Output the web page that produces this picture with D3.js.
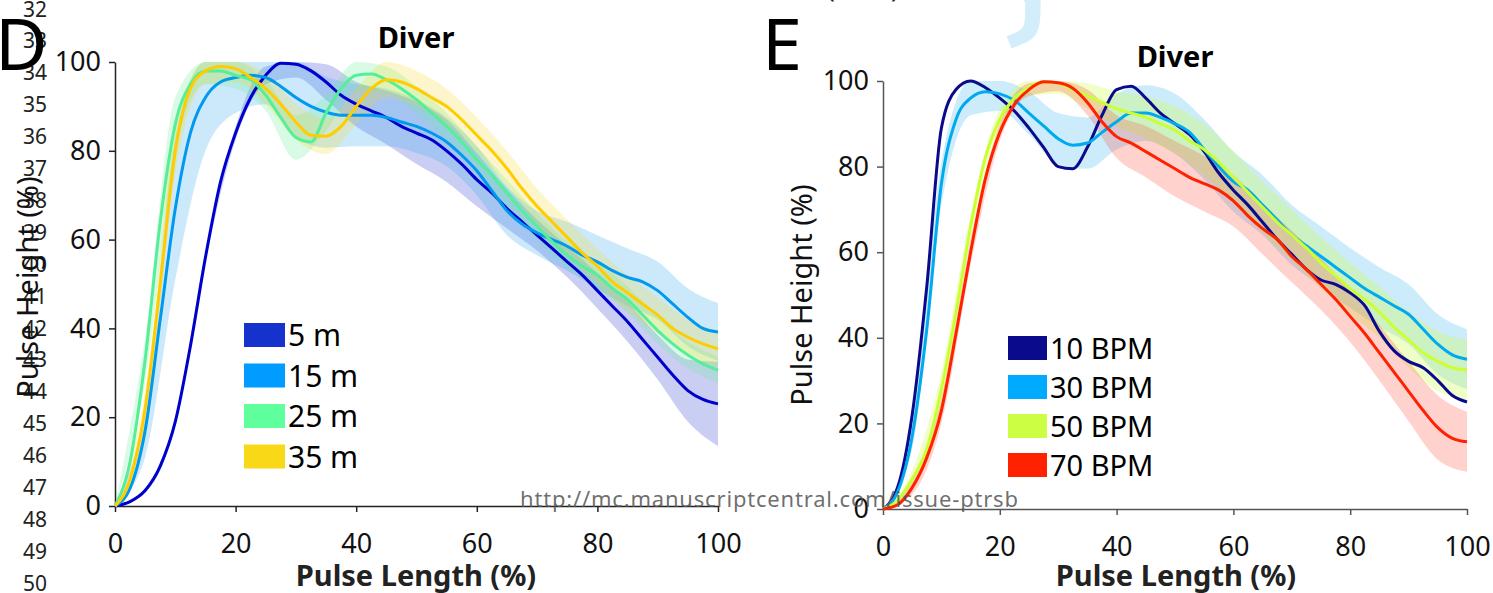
<!DOCTYPE html>
<html><head><meta charset="utf-8">
<script src="https://cdn.jsdelivr.net/npm/d3@7"></script>
<style>
html,body{margin:0;padding:0;background:#fff;}
svg{display:block;font-family:"Noto Sans","Open Sans",sans-serif;}
</style></head>
<body>
<svg id="chart" width="1493" height="593"></svg>
<script>
// ---------- DATA ----------
const xs = d3.range(0, 100.01, 2.5);      // pulse length (%)
const xsBand = d3.range(0, 100.01, 5);    // positions of band half-widths

// Panel D (depth)
const depthLabels = ["5 m", "15 m", "25 m", "35 m"];
const d5  = [0,1,3.5,9,19,36,56,73,84,92,97,99.7,99.5,98,95.5,92.5,90.5,89,87.5,85.5,84,82.5,80,77,73.5,70.5,67,64,61,58,55,52,48.5,45,41.5,37.5,33.5,29.5,26,24,23];
const d15 = [0,4,17,42,67,84,92,95.5,96.5,97,96.5,94.5,92,90,88.7,88,88,88,87.5,86.5,85.5,84,82,79,75.5,71,66.5,63.5,61.5,60,58.5,56.5,55,53,51.5,50.5,48.5,45.5,42.5,40,39.2];
const d25 = [0,10,33,64,86,95,98,98,97,96,92.5,87.5,83,82,88.5,94,97,97.3,96,94,91.5,88.5,85.5,82,78,74.5,70.5,66.5,63,59.5,56.5,54,52,49,46.5,43,39.5,36.5,34,32,30.6];
const d35 = [0,6,22,50,80,94,98,99,98.5,96.5,94,90.5,86.5,83.5,83.3,85.5,90,94,96,95.5,94,92,90,87,83.5,80,76,71.5,67.5,64,60.5,57,54,50.5,48,45.5,43,40,38,36.5,35.4];
const s5  = [0,0.5,1,1,1.5,2,3,4,5,6,7,7,6,4.5,3.5,3.5,4,4.5,5,7,9.5];
const s15 = [0,6,16,12,8,6,9,8,7,6.5,6,5.5,5.5,5.5,5,5.5,6,6.5,6.5,6.5,6.5];
const s25 = [0,5,6,3,3,3.5,5,4,3.5,3,3,3,3,3,3,3,3,3,3,3,3];
const s35 = [0,4,5,3,3,3.5,4,4,4,4,4,4,4,4,4,4,4,4,4,4,4];

// Panel E (rate)
const rateLabels = ["10 BPM", "30 BPM", "50 BPM", "70 BPM"];
const r10 = [0,5,22,52,89,98,100,98.5,96,93,89,84.5,80,79.5,84.5,92,98,98.8,96,92.5,90,87.5,83.5,78.5,74.5,71,67,63,59.5,56,53.5,52.5,50.5,47.5,41.5,37,34.5,33,30,26.5,25];
const r30 = [0,4,17,42,76,91,96,97.5,97,95.5,92.5,89.5,86.5,85,85.5,88,90.5,92.5,92.5,91.5,90,88,84,80,76.5,74.5,71,67.5,64,61.5,59,56.5,54,51.5,49.5,47.5,45.5,42,38.5,36,35];
const r50 = [0,2,7,14,28,46,66,82,91,96,98.5,99.8,99.5,98,96.5,95,93.5,92.5,91.5,90,88.5,86,84,81,77.5,74,70.5,67,64,61,57.5,54.5,51.5,49,46,42.5,39.5,36.5,34.5,33,32.5];
const r70 = [0,1,5,12,23,41,60,77,88,94.5,98,99.8,99.6,98.3,95,90.5,87,85.5,83.5,81.5,79.5,77.5,76,74.5,72,68.5,65.5,63,59,56,52.5,49,45,41,36.5,32,27.5,23,19,16.5,15.7];
const q30 = [0,3,5,4,4,5,6,6,6.5,6.5,7,7,7,7,7,7,7,7,7,7,7];
const q50 = [0,2,4,3,2.5,2,2.5,3,4,5,5.5,6,6,6,6,6,6,6,6.5,7,7];
const q70 = [0,1.5,3,3,2,1.5,2,3,5,6,6.5,6.5,6,6,6,6,6,6.5,7,7.5,7];

const yTicks = [0, 20, 40, 60, 80, 100];
const xTicks = [0, 20, 40, 60, 80, 100];
const lineNumbers = d3.range(32, 51);

// ---------- DRAW ----------
const svg = d3.select("#chart");
svg.append("rect").attr("width",1493).attr("height",593).attr("fill","#fff");

// manuscript line numbers
svg.append("g").selectAll("text").data(lineNumbers).join("text")
  .attr("x", 35).attr("y", (d,i) => 16.5 + i*31.9)
  .attr("text-anchor","middle").attr("font-size",21).attr("fill","#222")
  .text(d => d);

// watermark fragment
svg.append("text").attr("transform","translate(985,20) rotate(-22)")
  .attr("font-size",175).attr("font-family","DejaVu Sans").attr("fill","#d3eefa")
  .text("y");
svg.append("text").attr("x",827).attr("y",-3).attr("font-size",26).attr("fill","#222").text("(BPM)");

function panel(cfg){
  const x = d3.scaleLinear().domain([0,100]).range(cfg.xr);
  const y = d3.scaleLinear().domain([0,100]).range(cfg.yr);
  const g = svg.append("g");
  const clamp = v => Math.max(0, Math.min(100, v));

  // bands
  cfg.series.forEach(s => {
    if(!s.sd) return;
    const pts = xsBand.map((xv,i) => ({x:xv, lo:clamp(s.values[i*2]-s.sd[i]), hi:clamp(s.values[i*2]+s.sd[i])}));
    g.append("path").datum(pts)
      .attr("d", d3.area().x(d=>x(d.x)).y0(d=>y(d.lo)).y1(d=>y(d.hi)).curve(d3.curveMonotoneX))
      .attr("fill", s.band).attr("fill-opacity", s.bandOp);
  });

  // axes
  const ay = g.append("g").attr("transform",`translate(${cfg.xr[0]},0)`)
    .call(d3.axisLeft(y).tickValues(yTicks).tickSize(6).tickSizeOuter(0).tickPadding(8));
  const ax = g.append("g").attr("transform",`translate(0,${cfg.yr[0]})`)
    .call(d3.axisBottom(x).tickValues(xTicks).tickSize(6).tickSizeOuter(0).tickPadding(22));
  [ay,ax].forEach(a => {
    a.selectAll("path,line").attr("stroke",cfg.axisColor).attr("stroke-width",1.5);
    a.selectAll("text").attr("font-size",27).attr("fill","#111")
      .attr("font-family","'Noto Sans',sans-serif");
  });

  // lines
  cfg.series.forEach(s => {
    g.append("path").datum(s.values.map((v,i)=>({x:xs[i], y:v})))
      .attr("d", d3.line().x(d=>x(d.x)).y(d=>y(d.y)).curve(d3.curveMonotoneX))
      .attr("fill","none").attr("stroke", s.color).attr("stroke-width",3);
  });

  // legend
  const lg = g.append("g");
  cfg.series.forEach((s,i) => {
    lg.append("rect").attr("x",cfg.legX).attr("y",cfg.legY + i*cfg.legDy)
      .attr("width",cfg.swW).attr("height",24).attr("fill",s.swatch);
    lg.append("text").attr("x",cfg.legX + cfg.swW + 3).attr("y",cfg.legY + i*cfg.legDy + 23)
      .attr("font-size",cfg.legFont).attr("fill","#000").text(s.label);
  });

  // titles
  g.append("text").attr("x",cfg.titleX).attr("y",cfg.titleY).attr("text-anchor","middle")
    .attr("font-size",29).attr("font-weight","bold").attr("fill","#000").text("Diver");
  g.append("text").attr("x",cfg.xTitleX).attr("y",586).attr("text-anchor","middle")
    .attr("font-size",29).attr("font-weight","bold").attr("fill","#222").text("Pulse Length (%)");
  g.append("text").attr("transform",`translate(${cfg.yTitleX},${cfg.yTitleY}) rotate(-90)`)
    .attr("text-anchor","middle").attr("font-size",29).attr("fill","#111").text("Pulse Height (%)");
  g.append("text").attr("x",cfg.letterX).attr("y",cfg.letterY).attr("font-size",72).attr("fill","#000").text(cfg.letter);
}

panel({
  xr:[115,718], yr:[506,62], axisColor:"#222",
  series: depthLabels.map((lab,i)=>({
    label: lab,
    values: [d5,d15,d25,d35][i],
    sd: [s5,s15,s25,s35][i],
    color: ["#0000cc","#0099ee","#55ee99","#ffcc00"][i],
    swatch: ["#1533cc","#009cff","#60ff9e","#f8d817"][i],
    band: ["#2233cc","#33a8f0","#66ee99","#f8d817"][i],
    bandOp: [0.24,0.25,0.25,0.22][i]
  })),
  legX:244, legY:323, legDy:40.5, swW:41, legFont:30,
  titleX:416, titleY:48, xTitleX:416, yTitleX:38, yTitleY:287,
  letter:"D", letterX:-5, letterY:70
});

panel({
  xr:[883,1467], yr:[509,81], axisColor:"#555",
  series: rateLabels.map((lab,i)=>({
    label: lab,
    values: [r10,r30,r50,r70][i],
    sd: [null,q30,q50,q70][i],
    color: ["#0a0a8c","#00aaee","#ccff33","#ff2200"][i],
    swatch: ["#0a0a8c","#00aaff","#ccff44","#ff2200"][i],
    band: [null,"#33b5f0","#ccff44","#ff3322"][i],
    bandOp: [0,0.25,0.3,0.22][i]
  })),
  legX:1008, legY:336, legDy:39, swW:39, legFont:29,
  titleX:1175, titleY:67, xTitleX:1176, yTitleX:812, yTitleY:295,
  letter:"E", letterX:762, letterY:70
});

// repository watermark
svg.append("text").attr("x",520).attr("y",507).attr("font-size",22)
  .attr("fill","#555").attr("fill-opacity",0.85).attr("textLength",498)
  .text("http://mc.manuscriptcentral.com/issue-ptrsb");
</script>
</body></html>
